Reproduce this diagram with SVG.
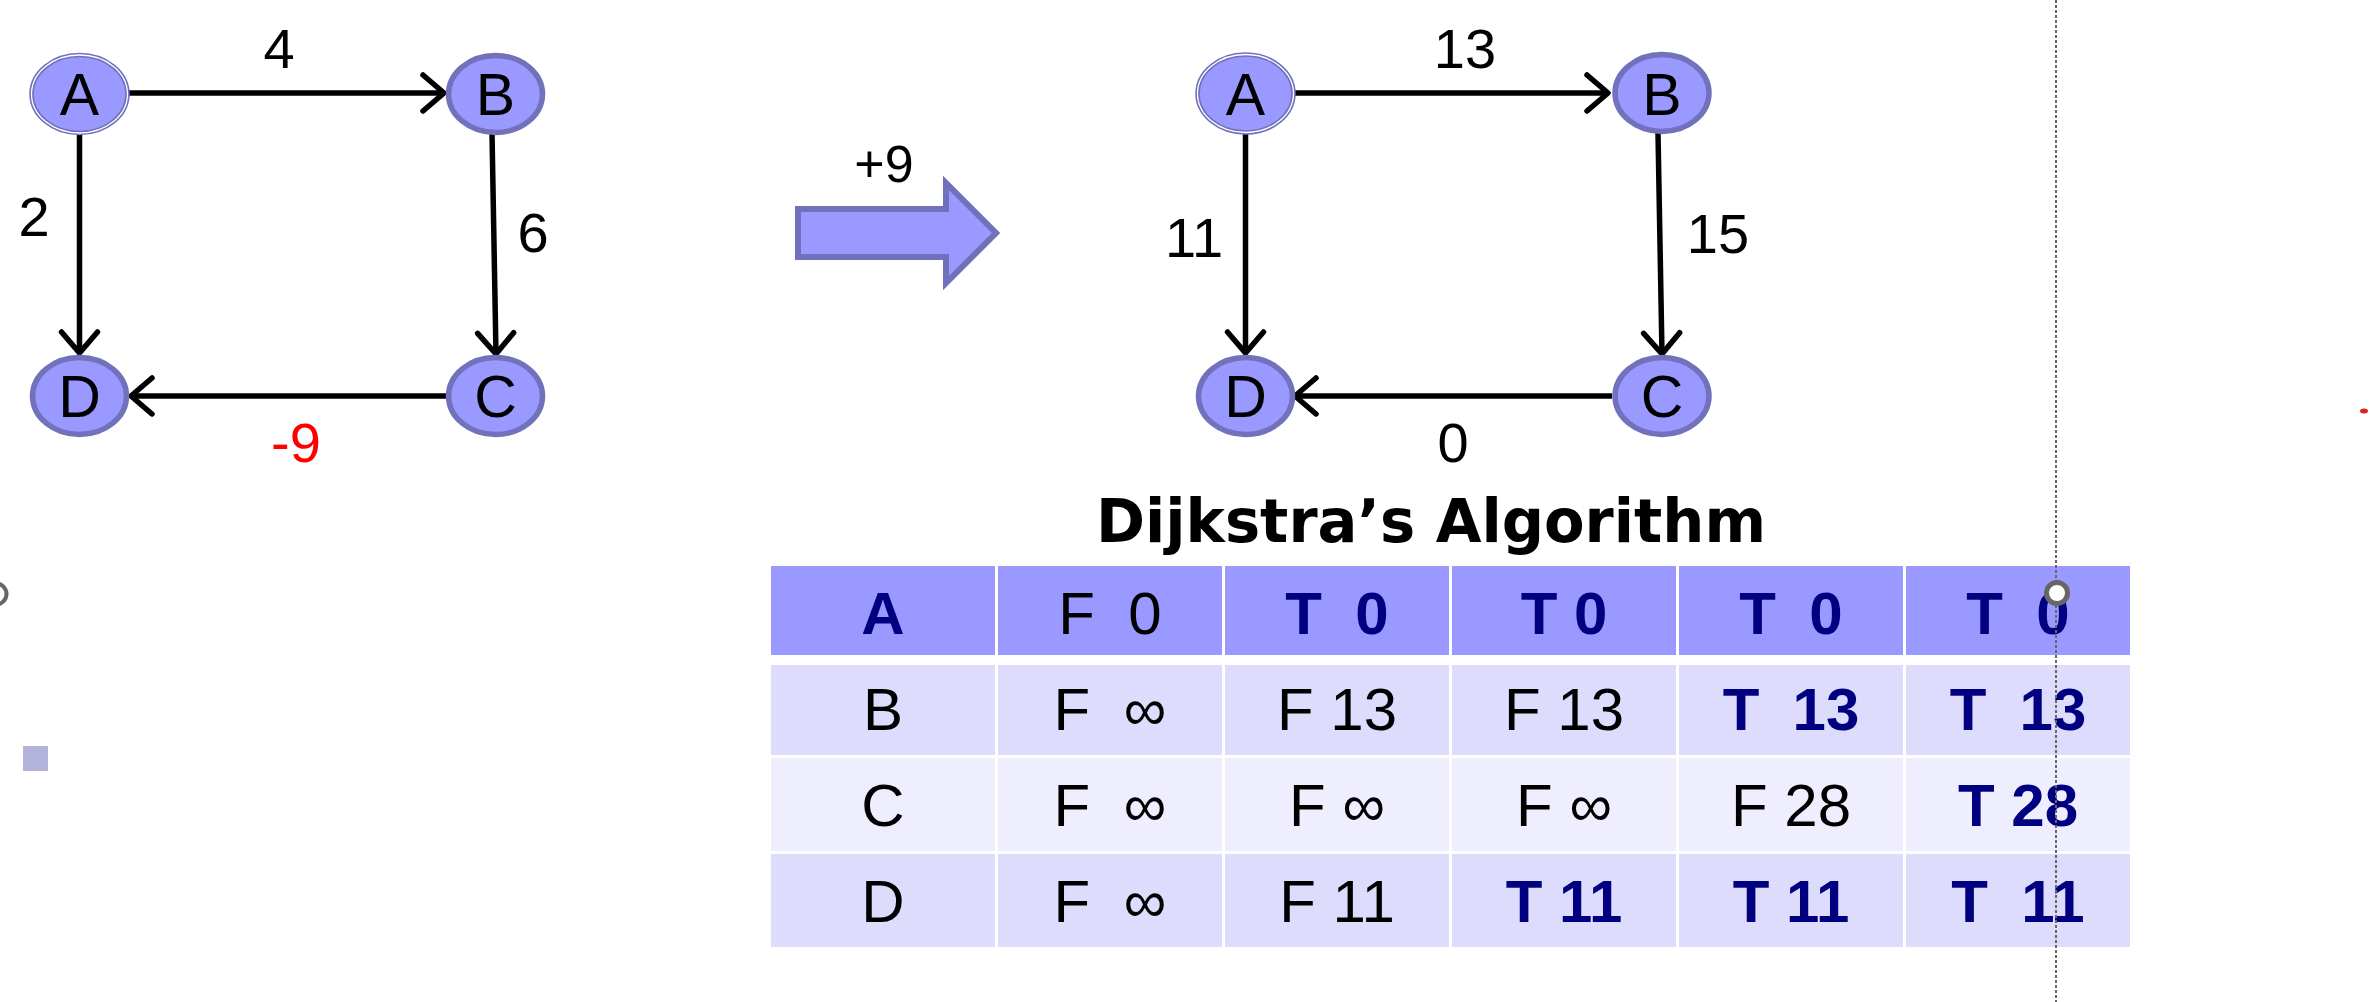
<svg xmlns="http://www.w3.org/2000/svg" width="2372" height="1002" viewBox="0 0 2372 1002">
<style>
.node{fill:#9999ff;stroke:#7171bc;stroke-width:5.5}
.nodeA{fill:#9999ff;stroke:#7171bc;stroke-width:4.5}
.nodeA2{fill:none;stroke:#ffffff;stroke-width:1.3}
.nl{font-family:"Liberation Sans",Arial,sans-serif;font-size:59px;fill:#000;text-anchor:middle}
.el{font-family:"Liberation Sans",Arial,sans-serif;font-size:56px;fill:#000;text-anchor:middle}
.edge{fill:none;stroke:#000;stroke-width:5.5;marker-end:url(#ah)}
.title{font-family:"DejaVu Sans",Verdana,sans-serif;font-weight:bold;font-size:60px;fill:#000;text-anchor:middle}
.hd{fill:#9999ff}
.r1{fill:#dddcfc}
.r2{fill:#efeefe}
.t{font-family:"Liberation Sans",Arial,sans-serif;font-size:60px;text-anchor:middle;white-space:pre}
.n{fill:#000}
.b{fill:#000080;font-weight:bold}
</style>
<defs>
<marker id="ah" markerUnits="userSpaceOnUse" orient="auto" refX="0" refY="0" markerWidth="60" markerHeight="60" viewBox="-30 -30 60 60" style="overflow:visible">
<path d="M-21,-18 L0,0 L-21,18" fill="none" stroke="#000" stroke-width="5.5" stroke-linecap="round" stroke-linejoin="round"/>
</marker>
</defs>
<rect width="2372" height="1002" fill="#ffffff"/>

<g id="connectors">
<path class="edge" d="M129,93 L444,93"/>
<path class="edge" d="M79.5,133 L79.5,353"/>
<path class="edge" d="M492,133 L496,354"/>
<path class="edge" d="M447,396 L131,396"/>
<path class="edge" d="M1295,93 L1608,93"/>
<path class="edge" d="M1245.5,133 L1245.5,353"/>
<path class="edge" d="M1658,133 L1662,354"/>
<path class="edge" d="M1612,396 L1295,396"/>
</g>

<g id="edge-labels">
<text class="el" x="279" y="68">4</text>
<text class="el" x="34" y="236">2</text>
<text class="el" x="533" y="252">6</text>
<text class="el" x="296" y="462" style="fill:#ff0000">-9</text>
<text class="el" x="1465" y="68">13</text>
<text class="el" x="1194" y="257">11</text>
<text class="el" x="1718" y="253">15</text>
<text class="el" x="1453" y="462">0</text>
</g>

<g id="node-A1">
<ellipse class="nodeA" cx="79.5" cy="94" rx="48" ry="39"/>
<ellipse class="nodeA2" cx="79.5" cy="94" rx="48" ry="39"/>
<text class="nl" x="79.5" y="115">A</text>
</g>
<g id="node-B1">
<ellipse class="node" cx="495.5" cy="94" rx="47" ry="38.5"/>
<text class="nl" x="495.5" y="115">B</text>
</g>
<g id="node-C1">
<ellipse class="node" cx="495.5" cy="396" rx="47" ry="38.5"/>
<text class="nl" x="495.5" y="417">C</text>
</g>
<g id="node-D1">
<ellipse class="node" cx="79.5" cy="396" rx="47" ry="38.5"/>
<text class="nl" x="79.5" y="417">D</text>
</g>

<g id="transform-arrow">
<polygon points="798,209 946,209 946,183 996,233 946,283 946,257 798,257" fill="#9999ff" stroke="#7070bb" stroke-width="6"/>
<text class="el" x="884" y="182" style="font-size:52px">+9</text>
</g>

<g id="node-A2">
<ellipse class="nodeA" cx="1245.5" cy="93.5" rx="48" ry="39"/>
<ellipse class="nodeA2" cx="1245.5" cy="93.5" rx="48" ry="39"/>
<text class="nl" x="1245.5" y="115">A</text>
</g>
<g id="node-B2">
<ellipse class="node" cx="1662" cy="93" rx="47" ry="38.5"/>
<text class="nl" x="1662" y="115">B</text>
</g>
<g id="node-C2">
<ellipse class="node" cx="1662" cy="396" rx="47" ry="38.5"/>
<text class="nl" x="1662" y="417">C</text>
</g>
<g id="node-D2">
<ellipse class="node" cx="1245.5" cy="396" rx="47" ry="38.5"/>
<text class="nl" x="1245.5" y="417">D</text>
</g>

<text class="title" x="1431" y="542" textLength="670" lengthAdjust="spacingAndGlyphs">Dijkstra’s Algorithm</text>

<g id="table" xml:space="preserve">
<rect class="hd" x="771" y="566" width="224" height="89"/>
<rect class="hd" x="998" y="566" width="224" height="89"/>
<rect class="hd" x="1225" y="566" width="224" height="89"/>
<rect class="hd" x="1452" y="566" width="224" height="89"/>
<rect class="hd" x="1679" y="566" width="224" height="89"/>
<rect class="hd" x="1906" y="566" width="224" height="89"/>
<rect class="r1" x="771" y="665" width="224" height="90"/>
<rect class="r1" x="998" y="665" width="224" height="90"/>
<rect class="r1" x="1225" y="665" width="224" height="90"/>
<rect class="r1" x="1452" y="665" width="224" height="90"/>
<rect class="r1" x="1679" y="665" width="224" height="90"/>
<rect class="r1" x="1906" y="665" width="224" height="90"/>
<rect class="r2" x="771" y="758" width="224" height="93"/>
<rect class="r2" x="998" y="758" width="224" height="93"/>
<rect class="r2" x="1225" y="758" width="224" height="93"/>
<rect class="r2" x="1452" y="758" width="224" height="93"/>
<rect class="r2" x="1679" y="758" width="224" height="93"/>
<rect class="r2" x="1906" y="758" width="224" height="93"/>
<rect class="r1" x="771" y="854" width="224" height="93"/>
<rect class="r1" x="998" y="854" width="224" height="93"/>
<rect class="r1" x="1225" y="854" width="224" height="93"/>
<rect class="r1" x="1452" y="854" width="224" height="93"/>
<rect class="r1" x="1679" y="854" width="224" height="93"/>
<rect class="r1" x="1906" y="854" width="224" height="93"/>

<text class="t b" x="883" y="634">A</text>
<text class="t n" x="1110" y="634">F  0</text>
<text class="t b" x="1337" y="634">T  0</text>
<text class="t b" x="1564" y="634">T 0</text>
<text class="t b" x="1791" y="634">T  0</text>
<text class="t b" x="2018" y="634">T  0</text>

<text class="t n" x="883" y="730">B</text>
<text class="t n" x="1110" y="730">F  ∞</text>
<text class="t n" x="1337" y="730">F 13</text>
<text class="t n" x="1564" y="730">F 13</text>
<text class="t b" x="1791" y="730">T  13</text>
<text class="t b" x="2018" y="730">T  13</text>

<text class="t n" x="883" y="826">C</text>
<text class="t n" x="1110" y="826">F  ∞</text>
<text class="t n" x="1337" y="826">F ∞</text>
<text class="t n" x="1564" y="826">F ∞</text>
<text class="t n" x="1791" y="826">F 28</text>
<text class="t b" x="2018" y="826">T 28</text>

<text class="t n" x="883" y="922">D</text>
<text class="t n" x="1110" y="922">F  ∞</text>
<text class="t n" x="1337" y="922">F 11</text>
<text class="t b" x="1564" y="922">T 11</text>
<text class="t b" x="1791" y="922">T 11</text>
<text class="t b" x="2018" y="922">T  11</text>
</g>

<g id="guides">
<line x1="2056" y1="0" x2="2056" y2="1002" stroke="#666666" stroke-width="2" stroke-dasharray="3 2"/>
<circle cx="2057" cy="593" r="10.5" fill="#ffffff" stroke="#666666" stroke-width="5"/>
<circle cx="-4" cy="594" r="10.5" fill="#ffffff" stroke="#666666" stroke-width="4"/>
<rect x="23" y="746" width="25" height="25" fill="#b3b3db"/>
<ellipse cx="2364" cy="411" rx="4" ry="2.5" fill="#e02020"/>
</g>
</svg>
